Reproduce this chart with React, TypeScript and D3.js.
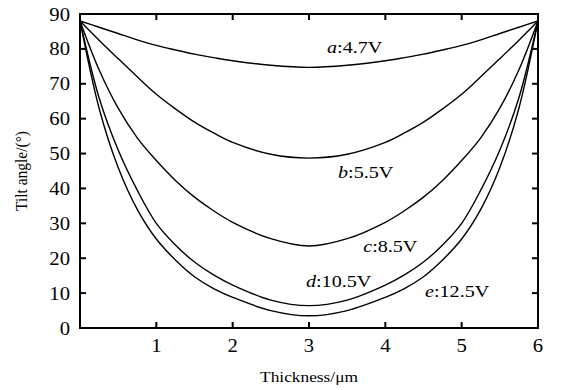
import { useRef, useEffect } from "react";
import * as d3 from "d3";

// half profile, x from 0 to 3 µm (curves are symmetric about 3)
const halfX = [0, 0.25, 0.5, 0.75, 1, 1.25, 1.5, 1.75, 2, 2.5, 3];
const curveA = [88, 86.2, 84.4, 82.6, 81, 79.7, 78.5, 77.5, 76.6, 75.3, 74.7];
const curveB = [88, 82.5, 77.2, 72, 67, 62.8, 59, 55.9, 53.2, 49.8, 48.7];
const curveC = [88, 74, 63, 54.5, 48, 42.3, 37.5, 33.6, 30.3, 25.6, 23.5];
const curveD = [88, 66, 51, 39.5, 30, 23.8, 18.9, 15.2, 12.3, 8.0, 6.4];
const curveE = [88, 63, 46, 34, 25.5, 19.5, 14.7, 11.3, 8.8, 5.0, 3.5];

const seriesLetters = ["a", "b", "c", "d", "e"];
const seriesVoltages = ["4.7V", "5.5V", "8.5V", "10.5V", "12.5V"];
// label anchor (x in µm, y in degrees)
const labelX = [3.236, 3.38, 3.71, 2.96, 4.52];
const labelY = [78.9, 43.0, 21.9, 11.8, 8.9];

const xTicks = [1, 2, 3, 4, 5, 6];
const yTicks = [0, 10, 20, 30, 40, 50, 60, 70, 80, 90];

const App = () => {
  const svgRef = useRef<SVGSVGElement>(null);

  useEffect(() => {
    const svg = d3.select(svgRef.current);
    svg.selectAll("*").remove();

    const width = 565;
    const height = 390;
    const margin = { top: 14, right: 27, bottom: 62, left: 80 };
    const font = "Liberation Serif, Times New Roman, serif";
    const stretch = 1.12;

    const x = d3.scaleLinear().domain([0, 6]).range([margin.left, width - margin.right]);
    const y = d3.scaleLinear().domain([0, 90]).range([height - margin.bottom, margin.top]);

    const all = [curveA, curveB, curveC, curveD, curveE].map((vals) => {
      const left = halfX.map((xv, i) => [xv, vals[i]]);
      const right = halfX
        .slice(0, -1)
        .reverse()
        .map((xv, i) => [6 - xv, vals[halfX.length - 2 - i]]);
      return left.concat(right);
    });

    const line = d3
      .line<number[]>()
      .x((d) => x(d[0]))
      .y((d) => y(d[1]))
      .curve(d3.curveCatmullRom.alpha(0.5));

    svg
      .append("g")
      .selectAll("path")
      .data(all)
      .join("path")
      .attr("fill", "none")
      .attr("stroke", "#000")
      .attr("stroke-width", 1.4)
      .attr("d", line);

    // ticks pointing inward on all four sides
    const tickLen = 6;
    const axisG = svg.append("g").attr("stroke", "#000").attr("stroke-width", 2);
    xTicks.slice(0, -1).forEach((t) => {
      axisG.append("line").attr("x1", x(t)).attr("x2", x(t)).attr("y1", y(0)).attr("y2", y(0) - tickLen);
      axisG.append("line").attr("x1", x(t)).attr("x2", x(t)).attr("y1", y(90)).attr("y2", y(90) + tickLen);
    });
    yTicks.slice(1, -1).forEach((t) => {
      axisG.append("line").attr("x1", x(0)).attr("x2", x(0) + tickLen).attr("y1", y(t)).attr("y2", y(t));
      axisG.append("line").attr("x1", x(6)).attr("x2", x(6) - tickLen).attr("y1", y(t)).attr("y2", y(t));
    });
    axisG
      .append("rect")
      .attr("x", x(0))
      .attr("y", y(90))
      .attr("width", x(6) - x(0))
      .attr("height", y(0) - y(90))
      .attr("fill", "none");

    const textG = svg.append("g").attr("font-family", font).attr("fill", "#000");

    textG
      .selectAll("text.xt")
      .data(xTicks)
      .join("text")
      .attr("class", "xt")
      .attr("transform", (d) => `translate(${x(d)},${y(0) + 24}) scale(${stretch},1)`)
      .attr("font-size", 18.5)
      .attr("text-anchor", "middle")
      .text((d) => d);

    textG
      .selectAll("text.yt")
      .data(yTicks)
      .join("text")
      .attr("class", "yt")
      .attr("transform", (d) => `translate(${x(0) - 10},${y(d) + 6.5}) scale(${stretch},1)`)
      .attr("font-size", 18.5)
      .attr("text-anchor", "end")
      .text((d) => d);

    textG
      .append("text")
      .attr("transform", `translate(${(x(0) + x(6)) / 2},382) scale(${stretch},1)`)
      .attr("text-anchor", "middle")
      .attr("font-size", 15.5)
      .text("Thickness/μm");

    textG
      .append("text")
      .attr("transform", `translate(27,${(y(0) + y(90)) / 2}) rotate(-90) scale(1,${stretch})`)
      .attr("text-anchor", "middle")
      .attr("font-size", 15.5)
      .text("Tilt angle/(°)");

    seriesLetters.forEach((letter, i) => {
      const t = textG
        .append("text")
        .attr("transform", `translate(${x(labelX[i])},${y(labelY[i])}) scale(1.15,1)`)
        .attr("font-size", 17.5);
      t.append("tspan").attr("font-style", "italic").text(letter);
      t.append("tspan").text(":" + seriesVoltages[i]);
    });
  }, []);

  return (
    <svg
      ref={svgRef}
      width={565}
      height={390}
      style={{ display: "block", position: "absolute", left: 0, top: 0 }}
    />
  );
};

export default App;
